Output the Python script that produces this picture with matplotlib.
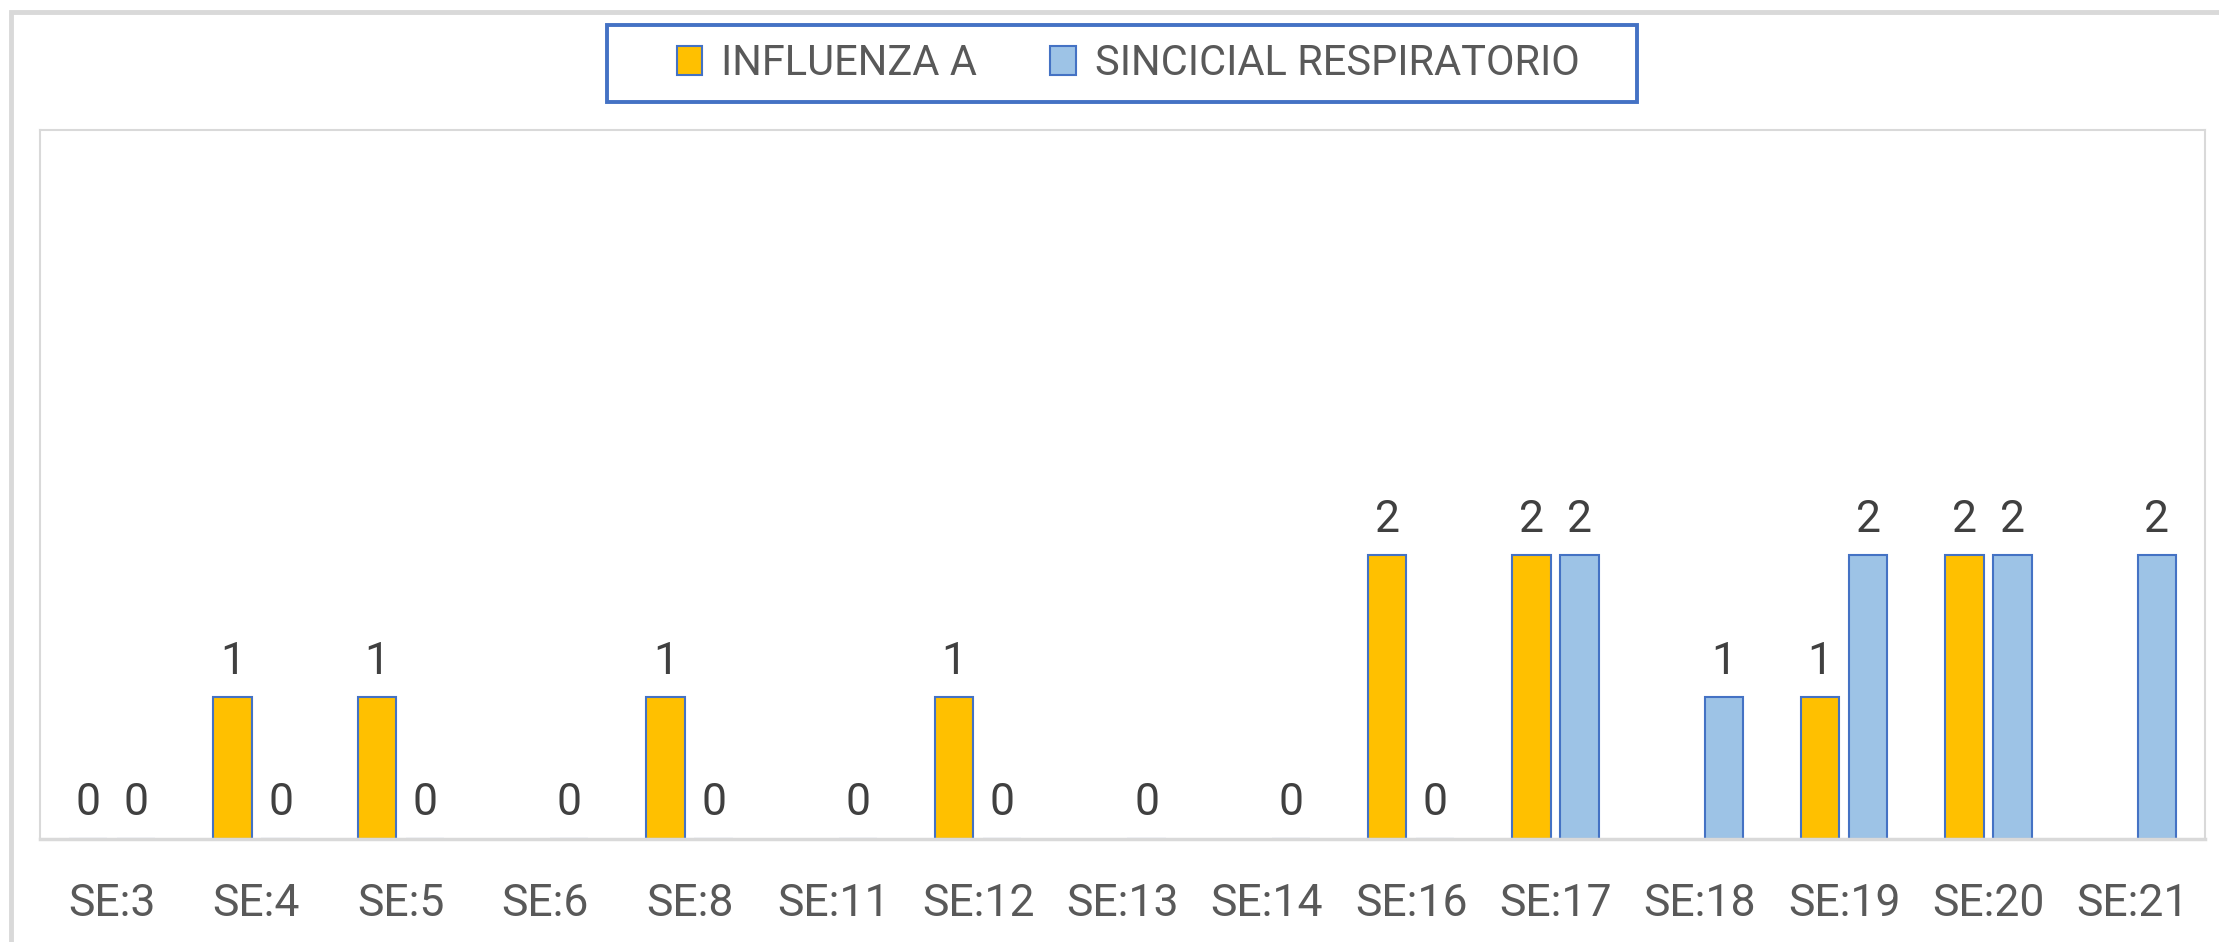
import matplotlib.pyplot as plt
import numpy as np
from matplotlib.patches import Rectangle

# data
semanas = ["SE:3", "SE:4", "SE:5", "SE:6", "SE:8", "SE:11", "SE:12", "SE:13",
           "SE:14", "SE:16", "SE:17", "SE:18", "SE:19", "SE:20", "SE:21"]
influenza_a = [0, 1, 1, np.nan, 1, np.nan, 1, np.nan, np.nan, 2, 2, np.nan, 1, 2, np.nan]
sincicial = [0, 0, 0, 0, 0, 0, 0, 0, 0, 0, 2, 1, 2, 2, 2]

# colors
amarillo = "#FFC000"
celeste = "#9DC3E6"
borde = "#4472C4"
gris = "#D9D9D9"

plt.rcParams['font.family'] = ['Roboto', 'DejaVu Sans']

W, H = 2219, 942
fig = plt.figure(figsize=(W / 100, H / 100), dpi=100)
ax = fig.add_axes([40 / W, 1 - 839 / H, (2205 - 40) / W, (839 - 130) / H])

x = np.arange(len(semanas))
w = 0.265
off = 0.167
b1 = ax.bar(x - off, influenza_a, w, color=amarillo, edgecolor=borde, linewidth=1.5,
            label="INFLUENZA A")
b2 = ax.bar(x + off, sincicial, w, color=celeste, edgecolor=borde, linewidth=1.5,
            label="SINCICIAL RESPIRATORIO")

# value labels
for xs, vals in ((x - off, influenza_a), (x + off, sincicial)):
    for xi, v in zip(xs, vals):
        if np.isnan(v):
            continue
        ax.annotate(f"{int(v)}", (xi, v), xytext=(0, 17), textcoords="offset points",
                    ha="center", va="baseline", fontsize=32, color="#404040")

ax.set_xlim(-0.5, len(semanas) - 0.5)
ax.set_ylim(0, 5)
ax.set_yticks([])
ax.set_xticks(x)
ax.set_xticklabels(semanas, fontsize=32, color="#595959")
ax.tick_params(axis="x", length=0, pad=32)
for s in ax.spines.values():
    s.set_color(gris)
    s.set_linewidth(1.5)
ax.spines['bottom'].set_linewidth(2.5)

# outer frame
fig.patches.append(Rectangle((11 / W, -0.1), 1.2, 1.1 - 12 / H, transform=fig.transFigure,
                             fill=False, edgecolor=gris, linewidth=3.5))

# legend box
fig.patches.append(Rectangle((607 / W, 1 - 102 / H), (1637 - 607) / W, 77 / H,
                             transform=fig.transFigure, fill=False, edgecolor=borde,
                             linewidth=2.8))
leg = fig.legend(handles=[b1, b2], loc="center", bbox_to_anchor=(1128 / W, 1 - 63.5 / H),
                 ncol=2, frameon=False, fontsize=30, handlelength=0.62, handleheight=0.68,
                 handletextpad=0.45, columnspacing=1.75)
for t in leg.get_texts():
    t.set_color("#595959")

fig.savefig("out.png", dpi=100)
